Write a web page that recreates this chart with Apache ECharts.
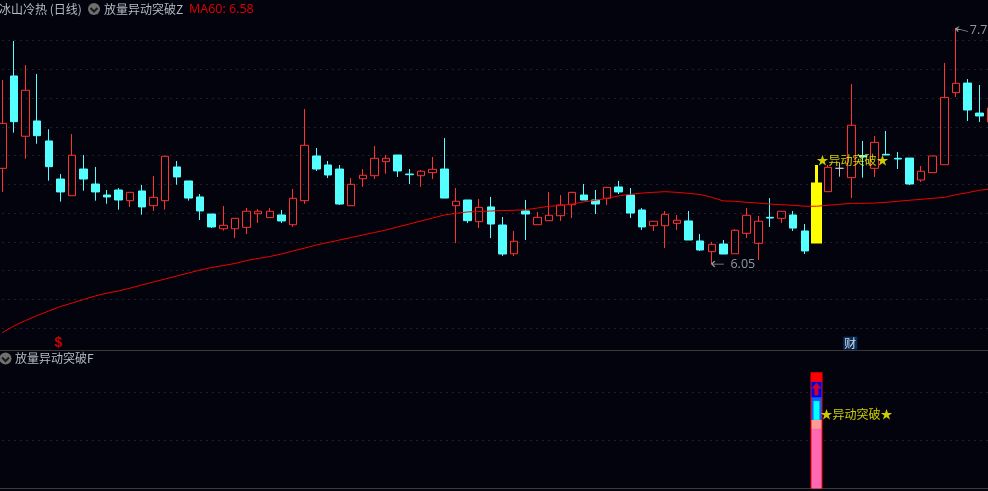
<!DOCTYPE html>
<html>
<head>
<meta charset="utf-8">
<style>
html,body{margin:0;padding:0;background:#03030d;overflow:hidden}
#chart{width:988px;height:491px}
</style>
<script src="https://cdn.jsdelivr.net/npm/echarts@6/dist/echarts.min.js"></script>
</head>
<body>
<div id="chart"></div>
<script>
// daily bars: open, close, low, high
var candles = [
[6.739,7.063,6.569,7.375],[7.404,7.075,6.996,7.656],[6.970,7.301,6.808,7.483],[7.080,6.974,6.916,7.418],
[6.936,6.751,6.650,7.020],[6.662,6.569,6.499,6.698],[6.542,6.833,6.542,6.986],[6.734,6.662,6.578,6.835],
[6.626,6.569,6.506,6.749],[6.547,6.533,6.484,6.583],[6.583,6.511,6.441,6.597],[6.506,6.566,6.461,6.566],
[6.576,6.461,6.405,6.619],[6.470,6.530,6.432,6.684],[6.506,6.826,6.441,6.828],[6.749,6.677,6.621,6.792],
[6.648,6.525,6.506,6.648],[6.533,6.432,6.367,6.554],[6.410,6.317,6.309,6.410],[6.304,6.329,6.290,6.468],
[6.304,6.379,6.237,6.379],[6.314,6.430,6.266,6.453],[6.412,6.430,6.345,6.446],[6.384,6.430,6.384,6.453],
[6.403,6.360,6.345,6.439],[6.333,6.523,6.317,6.590],[6.506,6.905,6.484,7.166],[6.828,6.734,6.720,6.885],
[6.763,6.691,6.669,6.792],[6.734,6.482,6.475,6.763],[6.470,6.624,6.470,6.669],[6.664,6.689,6.605,6.734],
[6.686,6.811,6.662,6.900],[6.787,6.811,6.700,6.835],[6.835,6.720,6.677,6.835],[6.698,6.693,6.626,6.734],
[6.686,6.718,6.605,6.727],[6.708,6.732,6.662,6.821],[6.734,6.525,6.525,6.957],[6.470,6.502,6.201,6.597],
[6.511,6.362,6.345,6.511],[6.355,6.458,6.309,6.518],[6.461,6.338,6.237,6.533],[6.331,6.122,6.108,6.389],
[6.124,6.214,6.108,6.288],[6.432,6.410,6.223,6.511],[6.333,6.386,6.333,6.425],[6.362,6.401,6.362,6.569],
[6.398,6.475,6.360,6.547],[6.477,6.566,6.381,6.569],[6.547,6.511,6.511,6.626],[6.511,6.482,6.410,6.583],
[6.523,6.602,6.475,6.605],[6.605,6.569,6.554,6.648],[6.547,6.417,6.381,6.597],[6.439,6.317,6.295,6.453],
[6.326,6.358,6.288,6.358],[6.326,6.408,6.165,6.432],[6.343,6.365,6.295,6.403],[6.360,6.223,6.223,6.432],
[6.216,6.151,6.144,6.266],[6.139,6.192,6.050,6.209],[6.194,6.122,6.122,6.223],[6.124,6.293,6.124,6.302],
[6.271,6.401,6.237,6.453],[6.199,6.358,6.079,6.396],[6.386,6.381,6.317,6.525],[6.379,6.430,6.345,6.432],
[6.403,6.309,6.288,6.432],[6.288,6.144,6.122,6.338],[6.209,6.626,6.209,6.763],[6.571,6.746,6.571,6.763],
[6.739,6.739,6.679,6.777],[6.672,7.049,6.525,7.346],[6.831,6.821,6.672,6.936],[6.739,6.926,6.677,6.972],
[6.840,6.835,6.835,7.008],[6.811,6.806,6.734,6.857],[6.813,6.626,6.619,6.813],[6.655,6.718,6.641,6.756],
[6.708,6.828,6.708,6.828],[6.765,7.250,6.765,7.497],[7.284,7.351,7.253,7.749],[7.353,7.159,7.080,7.382],
[7.137,7.116,7.073,7.339],[7.073,7.173,7.073,7.173]
];
var ma60 = [
5.556,5.604,5.643,5.679,5.712,5.744,5.769,5.795,5.820,5.841,5.856,5.877,5.899,5.921,5.942,5.964,
5.985,6.007,6.025,6.039,6.054,6.075,6.090,6.104,6.122,6.144,6.165,6.187,6.205,6.223,6.241,6.259,
6.277,6.295,6.317,6.338,6.360,6.381,6.403,6.415,6.425,6.428,6.432,6.435,6.437,6.441,6.453,6.466,
6.471,6.482,6.497,6.509,6.523,6.540,6.552,6.561,6.566,6.571,6.566,6.559,6.551,6.530,6.504,6.502,
6.494,6.489,6.482,6.477,6.473,6.466,6.466,6.473,6.480,6.487,6.487,6.489,6.494,6.502,6.509,6.516,
6.523,6.530,6.549,6.564,6.581,6.590
];
var categories = candles.map(function (c, i) { return String(i + 1); });

// the breakout day
var signalIndex = 70;
var signalBar = [6.209, 6.626, 6.209, 6.763];
var signalText = '★异动突破★';
var signalTextPrice = 6.794;
var signalTextLower = 76.9;

// lower panel sticks, [bottom, top]
var redStick = [0, 121];
var blueStick = [71.4, 111];
var navyStick = [95, 111];
var cyanStick = [71.4, 91];
var salmonStick = [62, 71.4];
var pinkStick = [0, 62];
var arrowValue = 103.5;

var lowPoint = [61, 6.05];
var highPoint = [82, 7.749];
var lowText = '6.05';
var highText = '7.76';
var markDollar = [5, 5.481];
var markCai = [73, 5.481];

var titleMain = '冰山冷热 (日线)';
var titleZ = '放量异动突破Z';
var titleMa = 'MA60: 6.58';
var titleF = '放量异动突破F';

var cjk = '"Noto Sans CJK SC"';
var dotted = { color: '#3c3c3c', width: 1, type: [1, 5] };

function stick(range, width, color) {
    return {
        type: 'candlestick',
        xAxisIndex: 1,
        yAxisIndex: 1,
        barWidth: width,
        itemStyle: { color: color, color0: color, borderColor: color, borderColor0: color, borderColorDoji: color, borderWidth: 0 },
        data: categories.map(function (c, i) {
            return i === signalIndex ? [range[0], range[1], range[0], range[1]] : '-';
        })
    };
}

function chevron(x, y) {
    return [
        { type: 'circle', shape: { cx: x, cy: y, r: 6 }, style: { fill: '#6f6f6f' } },
        { type: 'polyline', shape: { points: [[x - 3.5, y - 1], [x, y + 2.5], [x + 3.5, y - 1]] },
          style: { stroke: '#1a1a1a', lineWidth: 2, fill: null } }
    ];
}

function headText(x, y, text, color, font) {
    return { type: 'text', x: x, y: y, style: { text: text, fill: color, font: font, textVerticalAlign: 'middle' } };
}

var option = {
    backgroundColor: '#03030d',
    animation: false,
    grid: [
        { left: -3.5, width: 1000.2, top: 11.8, height: 345, outerBoundsMode: 'none' },
        { left: -3.5, width: 1000.2, top: 350.5, height: 138, outerBoundsMode: 'none', show: true, borderColor: '#3a3a3a', borderWidth: 1, backgroundColor: 'transparent' }
    ],
    xAxis: [
        { type: 'category', data: categories, gridIndex: 0, show: false },
        { type: 'category', data: categories, gridIndex: 1, show: false }
    ],
    yAxis: [
        {
            type: 'value', gridIndex: 0, min: 5.382, max: 7.866, interval: 0.207,
            axisLine: { show: false }, axisTick: { show: false }, axisLabel: { show: false },
            splitLine: { show: true, showMinLine: false, showMaxLine: false, lineStyle: dotted }
        },
        {
            type: 'value', gridIndex: 1, min: 0, max: 143.7, interval: 50,
            axisLine: { show: false }, axisTick: { show: false }, axisLabel: { show: false },
            splitLine: { show: true, showMinLine: false, showMaxLine: false, lineStyle: dotted }
        }
    ],
    series: [
        {
            name: 'K',
            type: 'candlestick',
            barWidth: 8,
            itemStyle: {
                color: 'transparent', color0: '#54ffff',
                borderColor: '#ff3232', borderColor0: '#54ffff', borderColorDoji: '#c8c8c8', borderWidth: 1
            },
            data: candles
        },
        {
            name: 'MA60',
            type: 'line',
            data: ma60,
            showSymbol: false,
            lineStyle: { color: '#f00000', width: 1 }
        },
        {
            name: 'signal',
            type: 'candlestick',
            barWidth: 8,
            itemStyle: { color: '#ffff00', color0: '#ffff00', borderColor: '#ffff00', borderColor0: '#ffff00', borderWidth: 3 },
            data: categories.map(function (c, i) { return i === signalIndex ? signalBar : '-'; })
        },
        {
            name: 'signalText',
            type: 'scatter',
            symbolSize: 0,
            z: 6,
            label: { show: true, position: 'right', distance: 0, color: '#ffff00', fontFamily: cjk, fontSize: 12, formatter: signalText },
            data: [[signalIndex, signalTextPrice]]
        },
        {
            name: 'low',
            type: 'scatter',
            symbol: 'path://M0 3L12 3M3 0L0 3L3 6',
            symbolSize: [12, 6],
            symbolOffset: [6, 0],
            itemStyle: { color: 'transparent', borderColor: '#c0c0c0', borderWidth: 1 },
            label: { show: true, position: 'right', distance: 6, color: '#b4bcc4', fontFamily: '"Open Sans"', fontSize: 12.5, formatter: lowText },
            data: [lowPoint]
        },
        {
            name: 'high',
            type: 'scatter',
            symbol: 'path://M0 0L12 3M3 -2L0 0L2 3',
            symbolSize: [12, 5],
            symbolOffset: [6, 1],
            itemStyle: { color: 'transparent', borderColor: '#c0c0c0', borderWidth: 1 },
            label: { show: true, position: 'right', distance: 1, offset: [0, 1], color: '#b4bcc4', fontFamily: '"Open Sans"', fontSize: 12.5, formatter: highText },
            data: [highPoint]
        },
        {
            name: 'dollar',
            type: 'scatter',
            symbolSize: 0,
            label: { show: true, position: 'inside', color: '#ff0000', fontFamily: '"Liberation Sans"', fontWeight: 'bold', fontSize: 14, offset: [-2, 0], formatter: '$' },
            data: [markDollar]
        },
        {
            name: 'cai',
            type: 'scatter',
            symbolSize: 0,
            label: { show: true, position: 'inside', color: '#ffffff', backgroundColor: '#0b3a6e', padding: [1, 1, 0, 1], fontFamily: cjk, fontSize: 12, offset: [-1, 0], formatter: '财' },
            data: [markCai]
        },
        stick(redStick, 13, '#ff0000'),
        stick(blueStick, 10, '#0f5fff'),
        stick(navyStick, 10, '#0000e6'),
        stick(cyanStick, 7, '#00ffff'),
        stick(salmonStick, 10, '#ff9a9a'),
        stick(pinkStick, 10, '#ff69b4'),
        {
            name: 'arrow',
            type: 'scatter',
            xAxisIndex: 1,
            yAxisIndex: 1,
            symbol: 'path://M5 0L10 6L7 6L7 13L3 13L3 6L0 6Z',
            symbolSize: [10, 13],
            z: 5,
            itemStyle: { color: '#ff0000' },
            data: [[signalIndex, arrowValue]]
        },
        {
            name: 'signalTextLower',
            type: 'scatter',
            xAxisIndex: 1,
            yAxisIndex: 1,
            symbolSize: 0,
            z: 6,
            label: { show: true, position: 'right', distance: 4, color: '#ffff00', fontFamily: cjk, fontSize: 12, formatter: signalText },
            data: [[signalIndex, signalTextLower]]
        }
    ],
    graphic: [].concat(
        chevron(94, 9),
        chevron(5.5, 358.5),
        [
            headText(-1, 9, titleMain, '#b4bcc4', '12px ' + cjk),
            headText(104, 9, titleZ, '#b4bcc4', '12px ' + cjk),
            headText(189, 9, titleMa, '#e00000', '12.5px "Open Sans"'),
            headText(15, 358.5, titleF, '#b4bcc4', '12px ' + cjk)
        ]
    )
};

var myChart = echarts.init(document.getElementById('chart'));
myChart.setOption(option);
</script>
</body>
</html>
